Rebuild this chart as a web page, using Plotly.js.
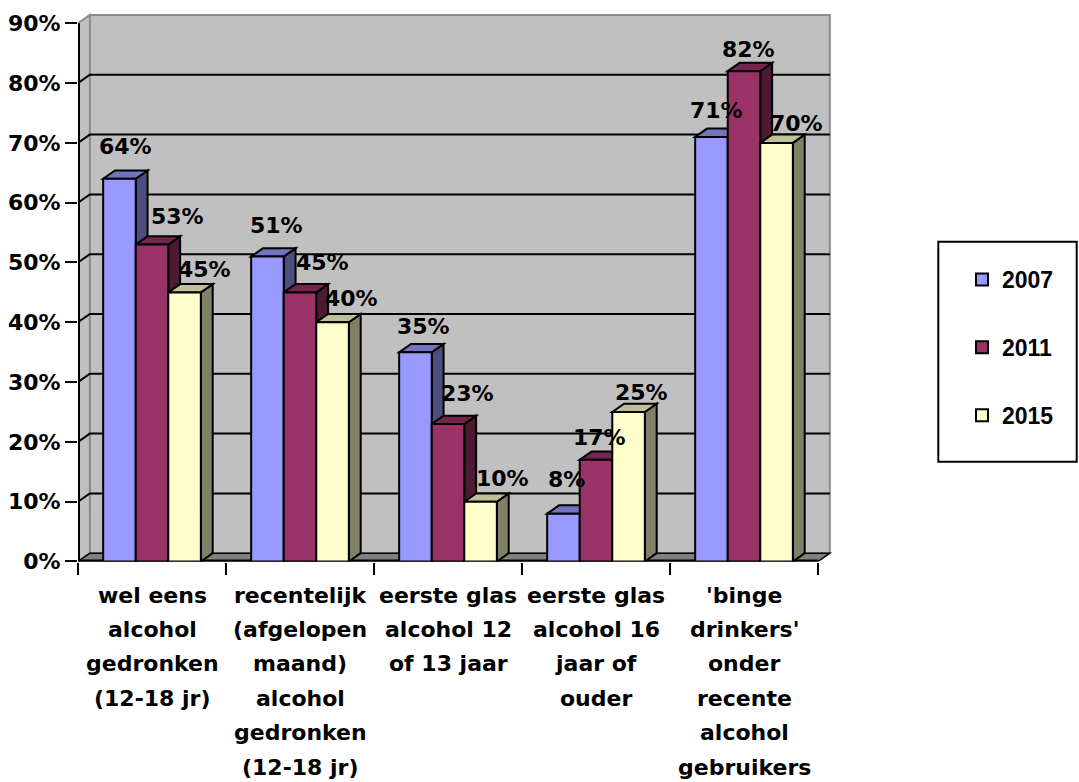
<!DOCTYPE html>
<html>
<head>
<meta charset="utf-8">
<script src="https://cdn.plot.ly/plotly-3.0.1.min.js"></script>
<style>
  html, body { margin: 0; padding: 0; background: #ffffff; }
  #chart { width: 1079px; height: 782px; }
</style>
</head>
<body>
<div id="chart"></div>
<script>
// ---------------- DATA ----------------
const categories = [
  "wel eens<br>alcohol<br>gedronken<br>(12-18 jr)",
  "recentelijk<br>(afgelopen<br>maand)<br>alcohol<br>gedronken<br>(12-18 jr)",
  "eerste glas<br>alcohol 12<br>of 13 jaar",
  "eerste glas<br>alcohol 16<br>jaar of<br>ouder",
  "'binge<br>drinkers'<br>onder<br>recente<br>alcohol<br>gebruikers"
];
const seriesNames = ["2007", "2011", "2015"];
const values2007 = [64, 51, 35, 8, 71];
const values2011 = [53, 45, 23, 17, 82];
const values2015 = [45, 40, 10, 25, 70];
const yTicks = [0, 10, 20, 30, 40, 50, 60, 70, 80, 90];
const yTickLabels = yTicks.map(v => v + "%");

// ---------------- STYLE ----------------
const seriesColors = ["#9999ff", "#993366", "#ffffcc"];
const W = 1079, H = 782;
const X0PX = 78, PX_PER_CAT = 148;      // x=-0.5 at 78px
const Y0PX = 561.5, PX_PER_PCT = 5.98;  // 0% at 561.5px
const DX = 0.08, DY = 1.39;             // 3-D depth (category units / percent)
const BARGAP = 0.34;
const BAR_W = (1 - BARGAP) / 3;
const FONT = {family: "DejaVu Sans", size: 22, color: "#000", weight: 700};
// pixel nudges of the value labels (style only)
const labelNudgeX = [[0, 3, 2, -3, -1], [20, 17, 14, -2, -1], [14.5, 13.5, 16.5, 7, 14]];
const labelNudgeY = [[23.6, 23, 17, 25.8, 18.6], [20, 22, 22.6, 14.5, 13.3], [15, 15, 14.4, 11.2, 11.1]];
const LINE_STEP = 34.4, FIRST_LINE = 33.5;

const allValues = [values2007, values2011, values2015];
const catIdx = categories.map((c, i) => i);

const xRange = [-0.5, categories.length - 0.5 + DX + 0.03];
const yRange = [0, yTicks[yTicks.length - 1] + DY + 0.4];
const xDomain = [X0PX / W, (X0PX + (xRange[1] - xRange[0]) * PX_PER_CAT) / W];
const yDomain = [(H - Y0PX) / H, (H - (Y0PX - yRange[1] * PX_PER_PCT)) / H];

function shade(hex, f) {
  const n = parseInt(hex.slice(1), 16);
  const r = Math.round(((n >> 16) & 255) * f);
  const g = Math.round(((n >> 8) & 255) * f);
  const b = Math.round((n & 255) * f);
  return `rgb(${r},${g},${b})`;
}

// ---------------- TRACES ----------------
const traces = allValues.map((vals, k) => ({
  type: "bar",
  name: seriesNames[k],
  legendgroup: seriesNames[k],
  x: catIdx,
  y: vals,
  marker: {color: seriesColors[k], line: {color: "#000", width: 2}},
  hoverinfo: "skip"
}));

// ---------------- SHAPES (3-D walls & faces) ----------------
const nCat = categories.length;
const shapes = [];
const L = -0.5, R = nCat - 0.5, TOP = yTicks[yTicks.length - 1];
// back wall
shapes.push({type: "rect", layer: "below", xref: "x", yref: "y",
  x0: L + DX, x1: R + DX, y0: DY, y1: TOP + DY,
  fillcolor: "#c0c0c0", line: {color: "#8c8c8c", width: 2}});
// side wall
shapes.push({type: "path", layer: "below", xref: "x", yref: "y",
  path: `M ${L},0 L ${L + DX},${DY} L ${L + DX},${TOP + DY} L ${L},${TOP} Z`,
  fillcolor: "#c0c0c0", line: {color: "#8c8c8c", width: 2}});
// floor
shapes.push({type: "path", layer: "below", xref: "x", yref: "y",
  path: `M ${L},0 L ${R},0 L ${R + DX},${DY} L ${L + DX},${DY} Z`,
  fillcolor: "#808080", line: {color: "#000", width: 1.5}});
// gridlines
yTicks.filter(v => v > 0 && v < TOP).forEach(v => {
  shapes.push({type: "path", layer: "below", xref: "x", yref: "y",
    path: `M ${L},${v} L ${L + DX},${v + DY} L ${R + DX},${v + DY}`,
    line: {color: "#000", width: 2}});
});
// axis lines
shapes.push({type: "line", layer: "below", xref: "x", yref: "y",
  x0: L, x1: L, y0: 0, y1: TOP, line: {color: "#000", width: 4}});
shapes.push({type: "line", layer: "below", xref: "x", yref: "y",
  x0: L, x1: R, y0: 0, y1: 0, line: {color: "#000", width: 4}});
// bar side & top faces
allValues.forEach((vals, k) => {
  vals.forEach((v, i) => {
    const x0 = i - (1 - BARGAP) / 2 + k * BAR_W;
    const x1 = x0 + BAR_W;
    shapes.push({type: "path", layer: "below", xref: "x", yref: "y",
      path: `M ${x1},0 L ${x1 + DX},${DY} L ${x1 + DX},${v + DY} L ${x1},${v} Z`,
      fillcolor: shade(seriesColors[k], 0.5), line: {color: "#000", width: 2}});
    shapes.push({type: "path", layer: "below", xref: "x", yref: "y",
      path: `M ${x0},${v} L ${x0 + DX},${v + DY} L ${x1 + DX},${v + DY} L ${x1},${v} Z`,
      fillcolor: shade(seriesColors[k], 0.75), line: {color: "#000", width: 2}});
  });
});
// legend frame
shapes.push({type: "rect", xref: "paper", yref: "paper",
  x0: 938.3 / W, x1: 1076.7 / W, y0: (H - 461.7) / H, y1: (H - 241.7) / H,
  line: {color: "#000", width: 2}, fillcolor: "rgba(0,0,0,0)"});

// ---------------- ANNOTATIONS ----------------
const annotations = [];
allValues.forEach((vals, k) => {
  vals.forEach((v, i) => {
    const xc = i - (1 - BARGAP) / 2 + (k + 0.5) * BAR_W + DX / 2;
    annotations.push({xref: "x", yref: "y", x: xc, y: v + DY,
      text: v + "%", showarrow: false, font: FONT,
      xanchor: "center", yanchor: "middle",
      xshift: labelNudgeX[k][i], yshift: labelNudgeY[k][i]});
  });
});
categories.forEach((c, i) => {
  c.split("<br>").forEach((line, j) => {
    annotations.push({xref: "x", yref: "paper", x: i, y: yDomain[0],
      text: line, showarrow: false, font: FONT,
      xanchor: "center", yanchor: "middle",
      yshift: -(FIRST_LINE + j * LINE_STEP)});
  });
});

// ---------------- LAYOUT ----------------
const layout = {
  width: W, height: H,
  margin: {l: 0, r: 0, t: 0, b: 0},
  paper_bgcolor: "#ffffff",
  plot_bgcolor: "rgba(0,0,0,0)",
  barmode: "group",
  bargap: BARGAP,
  bargroupgap: 0,
  showlegend: true,
  legend: {
    x: 962 / W, xanchor: "left",
    y: (H - 258) / H, yanchor: "top",
    font: {family: "Liberation Sans", size: 23, color: "#000", weight: 700},
    bgcolor: "rgba(0,0,0,0)", borderwidth: 0,
    traceorder: "grouped", tracegroupgap: 35
  },
  xaxis: {
    domain: xDomain, range: xRange, type: "linear",
    tickmode: "array",
    tickvals: categories.map((c, i) => i - 0.5).concat([nCat - 0.5]),
    showticklabels: false,
    ticks: "outside", ticklen: 12, tickwidth: 2, tickcolor: "#000",
    showgrid: false, zeroline: false, showline: false, fixedrange: true
  },
  yaxis: {
    domain: yDomain, range: yRange,
    tickmode: "array", tickvals: yTicks, ticktext: yTickLabels,
    tickfont: FONT,
    ticks: "outside", ticklen: 12, tickwidth: 2, tickcolor: "#000",
    showgrid: false, zeroline: false, showline: false, fixedrange: true
  },
  shapes: shapes,
  annotations: annotations
};

Plotly.newPlot("chart", traces, layout, {displayModeBar: false, staticPlot: true});
</script>
</body>
</html>
